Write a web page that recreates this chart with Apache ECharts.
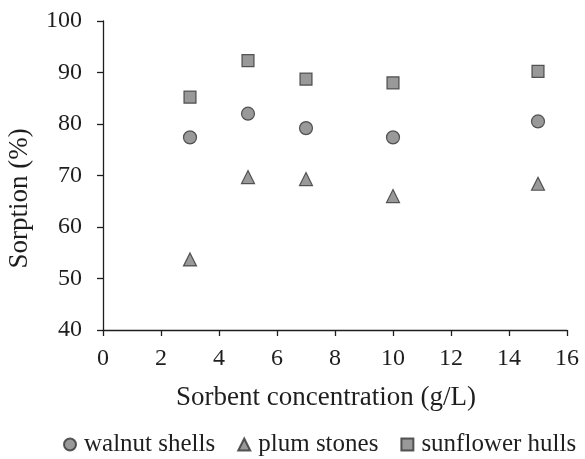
<!DOCTYPE html>
<html>
<head>
<meta charset="utf-8">
<script src="https://cdn.jsdelivr.net/npm/echarts@6/dist/echarts.min.js"></script>
<style>html,body{margin:0;padding:0;background:#fff;}#c{width:585px;height:459px;}</style>
</head>
<body>
<div id="c"></div>
<script>
const concentrations = [3, 5, 7, 10, 15];
const walnutShells = [77.4, 82.0, 79.2, 77.4, 80.5];
const plumStones = [53.7, 69.7, 69.3, 66.0, 68.4];
const sunflowerHulls = [85.2, 92.3, 88.7, 88.0, 90.2];
const seriesNames = ['walnut shells', 'plum stones', 'sunflower hulls'];

const FONT = '"Liberation Serif", "Times New Roman", serif';
const TXT = '#1e1e1e';
const chart = echarts.init(document.getElementById('c'), null, {renderer: 'canvas'});

function pairs(vals) { return concentrations.map((x, i) => [x, vals[i]]); }

const markerStyle = {color: '#7f7f7f', borderColor: '#333333', borderWidth: 1.2};

chart.setOption({
  animation: false,
  backgroundColor: '#ffffff',
  grid: {left: 103, right: 18, top: 21, bottom: 129, containLabel: false, outerBoundsMode: 'none'},
  xAxis: {
    type: 'value', min: 0, max: 16, interval: 2,
    name: 'Sorbent concentration (g/L)', nameLocation: 'middle', nameGap: 54,
    nameTextStyle: {fontFamily: FONT, fontSize: 27, color: TXT, padding: [0, 18, 0, 0]},
    axisLine: {show: true, onZero: false, lineStyle: {color: TXT, width: 1.3}},
    axisTick: {show: true, inside: false, length: 6, lineStyle: {color: TXT, width: 1.3}},
    axisLabel: {fontFamily: FONT, fontSize: 24, color: TXT, margin: 17},
    splitLine: {show: false}
  },
  yAxis: {
    type: 'value', min: 40, max: 100, interval: 10,
    name: 'Sorption (%)', nameLocation: 'middle', nameGap: 70, nameRotate: 90,
    nameTextStyle: {fontFamily: FONT, fontSize: 27, color: TXT, padding: [0, 46, 0, 0]},
    axisLine: {show: true, onZero: false, lineStyle: {color: TXT, width: 1.3}},
    axisTick: {show: true, inside: false, length: 6, lineStyle: {color: TXT, width: 1.3}},
    axisLabel: {fontFamily: FONT, fontSize: 24, color: TXT, margin: 21},
    splitLine: {show: false}
  },
  legend: {
    top: 432, left: 63, itemGap: 22, itemWidth: 12, itemHeight: 12, padding: 0,
    textStyle: {fontFamily: FONT, fontSize: 25, color: TXT, padding: [0, 0, 0, 3]},
    data: [
      {name: seriesNames[0], icon: 'circle'},
      {name: seriesNames[1], icon: 'triangle'},
      {name: seriesNames[2], icon: 'rect'}
    ]
  },
  series: [
    {name: seriesNames[0], type: 'scatter', symbol: 'circle', symbolSize: 13, data: pairs(walnutShells), itemStyle: markerStyle},
    {name: seriesNames[1], type: 'scatter', symbol: 'triangle', symbolSize: 13, data: pairs(plumStones), itemStyle: markerStyle},
    {name: seriesNames[2], type: 'scatter', symbol: 'rect', symbolSize: 12, data: pairs(sunflowerHulls), itemStyle: markerStyle}
  ]
});
</script>
</body>
</html>
